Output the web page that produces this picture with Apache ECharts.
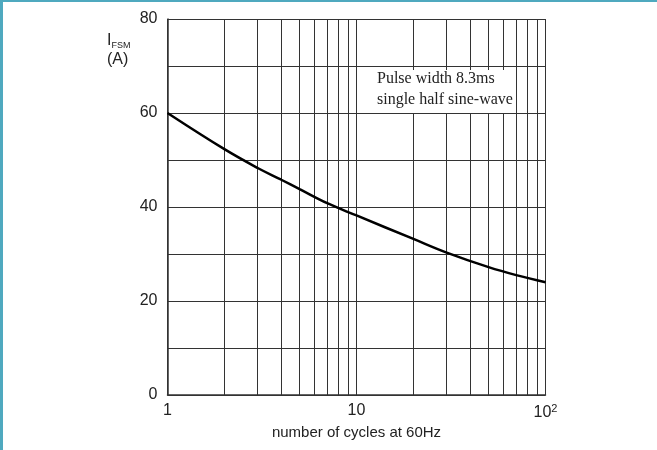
<!DOCTYPE html>
<html>
<head>
<meta charset="utf-8">
<script src="https://cdn.jsdelivr.net/npm/echarts@6/dist/echarts.min.js"></script>
<style>
  html, body { margin: 0; padding: 0; background: #fff; }
  #main { width: 657px; height: 450px; box-sizing: border-box; border-left: 3px solid #4fa9bf; border-top: 2px solid #4fa9bf; }
</style>
</head>
<body>
<div id="main"></div>
<script>
// number of cycles (log axis) and surge current I_FSM (A)
var cycles = [1, 2, 3, 4, 5, 7, 10, 20, 30, 50, 70, 100];
var current = [60, 52.3, 48.3, 45.8, 43.8, 40.8, 38.2, 33.2, 30.3, 27.2, 25.5, 24.0];
// minor vertical grid lines of the log axis
var minorX = [2, 3, 4, 5, 6, 7, 8, 9, 10, 20, 30, 40, 50, 60, 70, 80, 90];
var yLabels = [0, 20, 40, 60, 80];
var noteLines = ['Pulse width 8.3ms', 'single half sine-wave'];

var chart = echarts.init(document.getElementById('main'));

var gridColor = '#333';

chart.setOption({
    animation: false,
    backgroundColor: '#fff',
    grid: { left: 164.5, right: 111.5, top: 17, bottom: 55 },
    xAxis: {
        type: 'log',
        logBase: 10,
        min: 1,
        max: 100,
        name: 'number of cycles at 60Hz',
        nameLocation: 'middle',
        nameGap: 30,
        nameTextStyle: { fontFamily: 'Liberation Sans', fontSize: 15, color: '#222' },
        axisLine: { lineStyle: { color: gridColor, width: 1.5 } },
        axisTick: { show: false },
        splitLine: { show: true, lineStyle: { color: gridColor, width: 1 } },
        axisLabel: {
            fontFamily: 'Liberation Sans', fontSize: 16, color: '#222', margin: 8,
            formatter: function (v) { return v === 100 ? '10{sup|2}' : String(v); },
            rich: { sup: { fontSize: 11, verticalAlign: 'top', padding: [0, 0, 8, 0], fontFamily: 'Liberation Sans', color: '#222' } }
        }
    },
    yAxis: {
        type: 'value',
        min: 0,
        max: 80,
        interval: 10,
        axisLine: { show: true, lineStyle: { color: gridColor, width: 1.5 } },
        axisTick: { show: false },
        splitLine: { show: true, lineStyle: { color: gridColor, width: 1 } },
        axisLabel: {
            fontFamily: 'Liberation Sans', fontSize: 16, color: '#222', margin: 10,
            formatter: function (v) { return yLabels.indexOf(v) >= 0 ? String(v) : ''; }
        }
    },
    graphic: [
        {
            type: 'text', left: 104, top: 31,
            style: { text: 'I{s|FSM}', fontFamily: 'Liberation Sans', fontSize: 16, fill: '#222',
                rich: { s: { fontSize: 9, fontFamily: 'Liberation Sans', fill: '#222', padding: [10, 0, 0, 0] } } }
        },
        {
            type: 'text', left: 104, top: 50,
            style: { text: '(A)', fontFamily: 'Liberation Sans', fontSize: 16, fill: '#222' }
        },
        {
            type: 'rect', z: 50,
            shape: { x: 357, y: 68, width: 156, height: 43 },
            style: { fill: '#fff' }
        },
        {
            type: 'text', z: 51, left: 374, top: 66,
            style: { text: noteLines.join('\n'), fontFamily: 'Liberation Serif', fontSize: 16, lineHeight: 21, fill: '#222' }
        }
    ],
    series: [
        {
            type: 'line',
            data: cycles.map(function (c, i) { return [c, current[i]]; }),
            smooth: 0.4,
            symbol: 'none',
            lineStyle: { color: '#000', width: 2.5 },
            z: 5,
            markLine: {
                silent: true,
                symbol: 'none',
                label: { show: false },
                lineStyle: { color: gridColor, width: 1, type: 'solid' },
                data: minorX.map(function (v) { return { xAxis: v }; })
            }
        }
    ]
});
</script>
</body>
</html>
